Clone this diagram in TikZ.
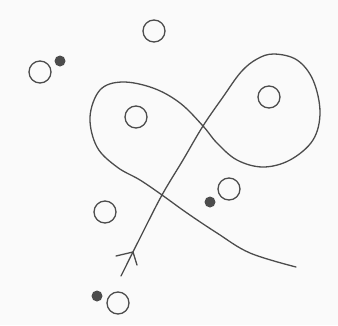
\documentclass[tikz,border=0pt]{standalone}
\begin{document}
\begin{tikzpicture}[x=1pt,y=-1pt,
  ink/.style={draw=black!70,line width=1.3pt,line cap=round,line join=round},
  ring/.style={ink,circle,minimum size=22pt,inner sep=0pt},
  dot/.style={circle,fill=black!70,minimum size=11pt,inner sep=0pt}]
\fill[black!2] (0,0) rectangle (338,325);
\useasboundingbox (0,0) rectangle (338,325);
% open circles
\node[ring] (c1) at (154,31) {};
\node[ring] (c2) at (40,72) {};
\node[ring] (c3) at (136,117) {};
\node[ring] (c4) at (269,97) {};
\node[ring] (c5) at (229,189) {};
\node[ring] (c6) at (105,212) {};
\node[ring] (c7) at (118,303) {};
% filled dots
\node[dot] (d1) at (60,61) {};
\node[dot] (d2) at (210,202) {};
\node[dot] (d3) at (97,296) {};
% path
\draw[ink] plot[smooth,tension=0.6] coordinates {
 (121,276) (141,236) (162,195) (183,160) (203,126) (223,97) (241,72) (257,59)
 (274,54) (297,60) (313,80) (320,112) (313,140) (290,160) (263,167) (237,160)
 (217,143) (203,126) (180,103) (153,88) (122,82) (100,90) (90,117) (97,147)
 (117,167) (140,180) (162,195) (187,213) (217,233) (250,253) (296,267)};
% arrowhead
\draw[ink] (116,256) -- (133,252) -- (137,265);
\end{tikzpicture}
\end{document}
